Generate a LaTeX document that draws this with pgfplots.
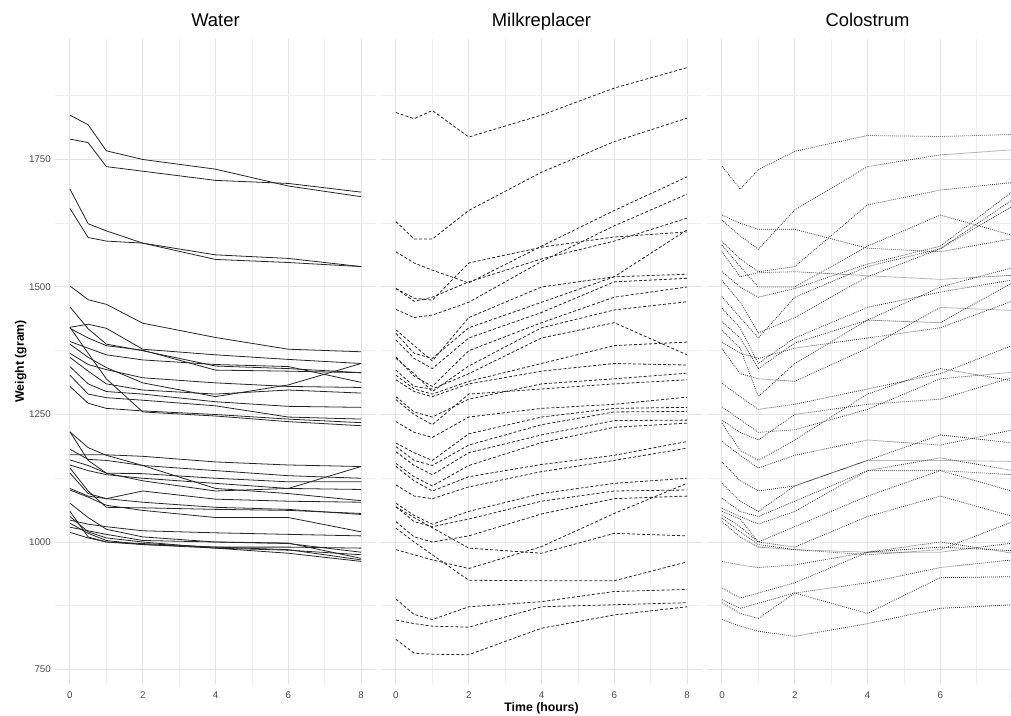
\documentclass[border=0pt]{standalone}
\usepackage{fontspec}
\setmainfont{Liberation Sans}
\usepackage{pgfplots}
\pgfplotsset{compat=1.18}
\definecolor{tickgray}{HTML}{4D4D4D}
\definecolor{gridmaj}{HTML}{E4E4E4}
\definecolor{gridmin}{HTML}{EFEFEF}
\newcommand\wl[7]{\addplot coordinates {(0,#1)(0.5,#2)(1,#3)(2,#4)(4,#5)(6,#6)(8,#7)};}
\pgfplotsset{panel/.style={
  scale only axis, width=320.2pt, height=645.2pt, anchor=south west,
  xmin=-0.4,xmax=8.4,ymin=722,ymax=1987,
  xtick={0,2,4,6,8}, minor xtick={1,3,5,7},
  ytick={750,1000,1250,1500,1750}, minor ytick={875,1125,1375,1625,1875},
  grid=both, major grid style={gridmaj, line width=1pt}, minor grid style={gridmin,line width=0.6pt},
  axis line style={draw=none}, major tick length=0pt, minor tick length=0pt,
  ticklabel style={font=\fontsize{9.75}{10}\selectfont, text=tickgray},
  /pgf/number format/assume math mode=true,
  /pgf/number format/set thousands separator={},
  xticklabel style={anchor=base, yshift=-14.7pt, inner sep=0pt},
  yticklabel style={anchor=east, xshift=-4.4pt, inner sep=0pt},
  title style={at={(axis description cs:0.5,1.0093)}, anchor=base, font=\fontsize{18.4}{20}\selectfont, inner sep=0pt},
  no markers,
}}
\begin{document}
\begin{tikzpicture}[x=1pt,y=1pt]
\useasboundingbox (0,0) rectangle (1011,715);
\clip (0,0) rectangle (1011,715);
% ---------------- Water ----------------
\begin{axis}[panel, at={(55.4pt,31.2pt)}, title={Water},
  ylabel={Weight (gram)},
  ylabel style={at={(axis description cs:-0.0981,0.5)}, anchor=base, font=\bfseries\fontsize{12.3}{13}\selectfont, inner sep=0pt},
  every axis plot post/.append style={black!85, solid, line width=0.8pt}]
\wl{1837}{1818}{1767}{1750}{1731}{1698}{1677}
\wl{1790}{1783}{1736}{1727}{1709}{1703}{1686}
\wl{1692}{1624}{1610}{1586}{1563}{1556}{1540}
\wl{1654}{1597}{1590}{1586}{1554}{1548}{1540}
\wl{1502}{1475}{1466}{1429}{1401}{1378}{1373}
\wl{1461}{1418}{1388}{1375}{1345}{1340}{1332}
\wl{1421}{1427}{1419}{1378}{1367}{1358}{1350}
\wl{1419}{1400}{1385}{1376}{1337}{1335}{1332}
\wl{1393}{1380}{1367}{1357}{1348}{1344}{1313}
\wl{1388}{1362}{1342}{1312}{1285}{1308}{1350}
\wl{1370}{1348}{1338}{1322}{1312}{1305}{1303}
\wl{1362}{1335}{1310}{1298}{1290}{1298}{1292}
\wl{1344}{1310}{1295}{1290}{1275}{1266}{1264}
\wl{1327}{1290}{1283}{1278}{1267}{1245}{1241}
\wl{1305}{1272}{1262}{1257}{1250}{1241}{1234}
\wl{1421}{1370}{1320}{1255}{1247}{1236}{1228}
\wl{1216}{1185}{1170}{1150}{1105}{1095}{1081}
\wl{1216}{1160}{1135}{1120}{1100}{1105}{1148}
\wl{1171}{1171}{1171}{1168}{1157}{1151}{1148}
\wl{1182}{1162}{1160}{1150}{1140}{1130}{1125}
\wl{1161}{1150}{1135}{1134}{1125}{1118}{1118}
\wl{1151}{1140}{1132}{1125}{1115}{1105}{1103}
\wl{1145}{1100}{1068}{1067}{1064}{1062}{1056}
\wl{1135}{1095}{1085}{1078}{1068}{1064}{1054}
\wl{1105}{1090}{1085}{1100}{1084}{1080}{1078}
\wl{1102}{1088}{1072}{1062}{1048}{1048}{1020}
\wl{1043}{1035}{1030}{1022}{1018}{1015}{1012}
\wl{1076}{1048}{1025}{1010}{1000}{998}{968}
\wl{1060}{1010}{1000}{997}{990}{985}{965}
\wl{1050}{1020}{1008}{1000}{988}{978}{962}
\wl{1037}{1017}{1003}{995}{988}{984}{975}
\wl{1029}{1022}{1015}{1003}{1000}{997}{980}
\wl{1019}{1008}{1000}{995}{990}{990}{988}
\end{axis}
% ---------------- Milkreplacer ----------------
\begin{axis}[panel, at={(381.4pt,31.2pt)}, title={Milkreplacer}, yticklabels={},
  xlabel={Time (hours)},
  xlabel style={at={(axis description cs:0.5,-0.04216)}, anchor=base, font=\bfseries\fontsize{12.3}{13}\selectfont, inner sep=0pt},
  every axis plot post/.append style={black!85, line width=0.8pt, dash pattern=on 3pt off 2pt}]
\wl{1842}{1830}{1846}{1794}{1837}{1890}{1930}
\wl{1628}{1594}{1594}{1650}{1725}{1785}{1831}
\wl{1569}{1547}{1533}{1508}{1580}{1650}{1716}
\wl{1497}{1478}{1474}{1547}{1578}{1598}{1608}
\wl{1456}{1440}{1445}{1470}{1550}{1620}{1682}
\wl{1497}{1472}{1480}{1510}{1555}{1590}{1635}
\wl{1416}{1385}{1355}{1440}{1500}{1520}{1612}
\wl{1409}{1370}{1360}{1420}{1470}{1520}{1525}
\wl{1396}{1360}{1340}{1400}{1450}{1510}{1517}
\wl{1363}{1325}{1305}{1375}{1430}{1480}{1500}
\wl{1360}{1330}{1295}{1345}{1420}{1455}{1471}
\wl{1337}{1305}{1300}{1330}{1400}{1430}{1367}
\wl{1327}{1300}{1290}{1315}{1350}{1385}{1392}
\wl{1318}{1295}{1285}{1310}{1335}{1350}{1347}
\wl{1285}{1255}{1245}{1280}{1310}{1320}{1331}
\wl{1279}{1250}{1230}{1290}{1300}{1310}{1318}
\wl{1236}{1215}{1205}{1245}{1262}{1270}{1284}
\wl{1194}{1175}{1160}{1212}{1245}{1262}{1264}
\wl{1187}{1160}{1150}{1190}{1230}{1255}{1256}
\wl{1177}{1150}{1132}{1175}{1210}{1238}{1239}
\wl{1154}{1128}{1110}{1150}{1195}{1225}{1233}
\wl{1148}{1120}{1100}{1128}{1152}{1170}{1197}
\wl{1112}{1090}{1085}{1108}{1138}{1160}{1184}
\wl{1076}{1052}{1035}{1060}{1095}{1115}{1125}
\wl{1069}{1040}{1030}{1045}{1080}{1100}{1102}
\wl{1069}{1048}{1028}{988}{978}{1017}{1012}
\wl{1040}{1010}{1000}{1012}{1055}{1085}{1090}
\wl{985}{975}{965}{948}{991}{1056}{1115}
\wl{1027}{1000}{975}{925}{924}{924}{961}
\wl{888}{858}{848}{873}{883}{903}{907}
\wl{847}{840}{835}{833}{873}{877}{881}
\wl{809}{782}{780}{779}{831}{857}{873}
\end{axis}
% ---------------- Colostrum ----------------
\begin{axis}[panel, at={(707.4pt,31.2pt)}, title={Colostrum}, yticklabels={},
  every axis plot post/.append style={black!80, line width=0.8pt, dash pattern=on 0.8pt off 1.2pt}]
\wl{1737}{1692}{1730}{1766}{1797}{1795}{1799}
\wl{1641}{1625}{1613}{1613}{1576}{1569}{1595}
\wl{1631}{1600}{1574}{1651}{1736}{1759}{1769}
\wl{1589}{1555}{1530}{1540}{1661}{1690}{1705}
\wl{1582}{1540}{1500}{1500}{1580}{1641}{1601}
\wl{1569}{1520}{1528}{1530}{1522}{1515}{1523}
\wl{1530}{1500}{1480}{1497}{1545}{1580}{1688}
\wl{1513}{1470}{1410}{1440}{1520}{1575}{1659}
\wl{1481}{1440}{1400}{1480}{1540}{1575}{1672}
\wl{1458}{1420}{1350}{1400}{1460}{1490}{1514}
\wl{1432}{1400}{1340}{1390}{1435}{1430}{1509}
\wl{1415}{1380}{1285}{1350}{1435}{1500}{1538}
\wl{1392}{1370}{1360}{1380}{1400}{1420}{1473}
\wl{1379}{1330}{1320}{1315}{1380}{1460}{1454}
\wl{1311}{1285}{1260}{1270}{1300}{1330}{1386}
\wl{1265}{1240}{1215}{1220}{1260}{1320}{1333}
\wl{1239}{1215}{1200}{1250}{1270}{1280}{1323}
\wl{1233}{1180}{1160}{1200}{1290}{1340}{1316}
\wl{1197}{1170}{1145}{1170}{1200}{1190}{1220}
\wl{1157}{1120}{1100}{1110}{1160}{1210}{1194}
\wl{1115}{1080}{1060}{1110}{1160}{1160}{1158}
\wl{1086}{1060}{1050}{1080}{1140}{1165}{1140}
\wl{1066}{1050}{1035}{1060}{1140}{1140}{1132}
\wl{1060}{1045}{1000}{1030}{1090}{1140}{1099}
\wl{1053}{1030}{1000}{990}{1050}{1090}{1050}
\wl{1047}{1020}{995}{985}{975}{985}{1040}
\wl{1040}{1010}{990}{985}{980}{980}{998}
\wl{962}{955}{950}{955}{980}{990}{983}
\wl{910}{890}{900}{920}{980}{1000}{978}
\wl{887}{870}{880}{900}{920}{950}{965}
\wl{881}{860}{850}{900}{860}{930}{932}
\wl{848}{835}{825}{815}{840}{870}{877}
\end{axis}
\end{tikzpicture}
\end{document}
